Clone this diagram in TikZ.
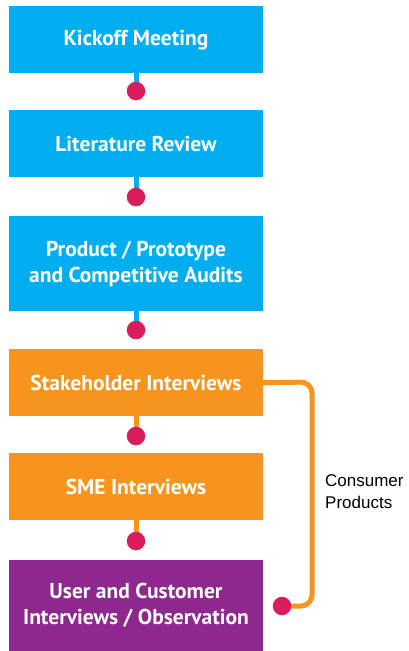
\documentclass[tikz,border=0pt]{standalone}
\usepackage{fontspec}
\setmainfont{PT Sans}
\newfontfamily\sidefont{Liberation Sans}
\usetikzlibrary{backgrounds}
\definecolor{boxblue}{HTML}{00AEEF}
\definecolor{boxorange}{HTML}{F7941D}
\definecolor{boxpurple}{HTML}{8E278E}
\definecolor{dotpink}{HTML}{DA1C5C}
\begin{document}
\begin{tikzpicture}[x=1pt,y=-1pt,
  stagebox/.style={rectangle, minimum width=254pt, inner sep=0pt, anchor=north,
    text=white, align=center, font=\bfseries\fontsize{21.5}{26}\selectfont},
  bluebox/.style={stagebox, fill=boxblue},
  orangebox/.style={stagebox, fill=boxorange},
  purplebox/.style={stagebox, fill=boxpurple},
  dotnode/.style={circle, fill=dotpink, minimum size=18.5pt, inner sep=0pt},
  link/.style={line width=5pt},
  sidelabel/.style={anchor=north west, inner sep=0pt, align=left, text=black,
    font=\sidefont\fontsize{17}{22}\selectfont}]
\useasboundingbox (0,0) rectangle (408,651);
\node[bluebox, minimum height=67pt] (b1) at (136,6) {Kickoff Meeting};
\node[bluebox, minimum height=67pt] (b2) at (136,110) {Literature Review};
\node[bluebox, minimum height=95pt] (b3) at (136,216) {Product / Prototype\\and Competitive Audits};
\node[orangebox, minimum height=67pt] (b4) at (136,349) {Stakeholder Interviews};
\node[orangebox, minimum height=67pt] (b5) at (136,453) {SME Interviews};
\node[purplebox, minimum height=91pt] (b6) at (136,560) {User and Customer\\Interviews / Observation};
\node[dotnode] (d1) at (136,91) {};
\node[dotnode] (d2) at (136,197) {};
\node[dotnode] (d3) at (136,330) {};
\node[dotnode] (d4) at (136,436) {};
\node[dotnode] (d5) at (136,541) {};
\node[dotnode] (d6) at (282,606) {};
\coordinate (c1) at (312,382);
\coordinate (c2) at (312,606);
\begin{scope}[on background layer]
\fill[white] (0,0) rectangle (408,651);
\draw[link, boxblue] (b1.south) -- (d1.center);
\draw[link, boxblue] (b2.south) -- (d2.center);
\draw[link, boxblue] (b3.south) -- (d3.center);
\draw[link, boxorange] (b4.south) -- (d4.center);
\draw[link, boxorange] (b5.south) -- (d5.center);
\draw[link, boxorange, rounded corners=11pt] (b4.east) -- (c1) -- (c2) -- (d6.center);
\end{scope}
\node[sidelabel] (lab) at (325,474) {Consumer\\Products};
\end{tikzpicture}
\end{document}
